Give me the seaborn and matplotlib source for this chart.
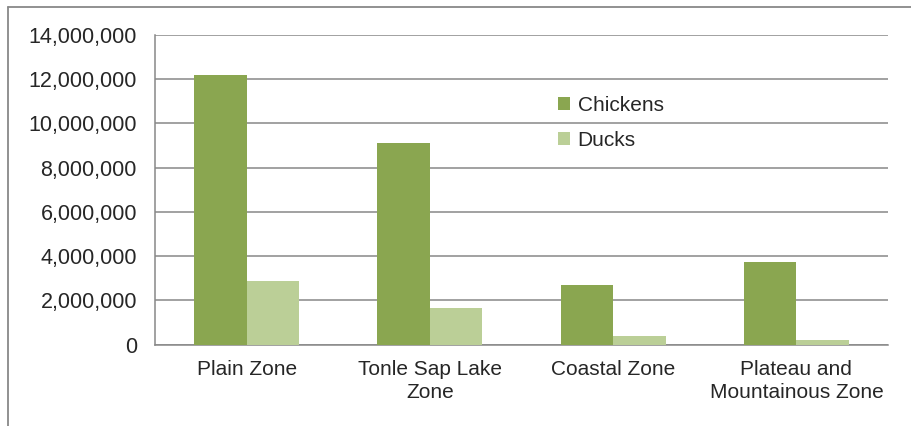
import pandas as pd
import numpy as np
import matplotlib.pyplot as plt
import seaborn as sns
from matplotlib.ticker import FuncFormatter
from matplotlib.lines import Line2D

# data
zones = ['Plain Zone', 'Tonle Sap Lake\nZone', 'Coastal Zone', 'Plateau and\nMountainous Zone']
chickens = [12180000, 9100000, 2680000, 3750000]
ducks = [2860000, 1640000, 400000, 200000]
series = ['Chickens', 'Ducks']
colors = ['#8AA650', '#BBCF97']
yticks = [0, 2000000, 4000000, 6000000, 8000000, 10000000, 12000000, 14000000]

df = pd.DataFrame({'zone': zones * 2,
                   'animal': ['Chickens'] * 4 + ['Ducks'] * 4,
                   'count': chickens + ducks})

sns.set_style('white')
plt.rcParams['font.family'] = ['Liberation Sans', 'DejaVu Sans']

fig = plt.figure(figsize=(9.12, 4.26), dpi=100)
ax = fig.add_axes([0.170, 0.1913, 0.8037, 0.7265])

sns.barplot(data=df, x='zone', y='count', hue='animal', hue_order=series,
            palette=colors, width=0.574, saturation=1, ax=ax, zorder=3,
            edgecolor='none', legend=True)

ax.set_ylim(0, 14000000)
ax.set_yticks(yticks)
ax.yaxis.set_major_formatter(FuncFormatter(lambda v, p: f'{int(v):,}'))
ax.grid(axis='y', color='#888888', linewidth=1.1, zorder=0)
ax.set_axisbelow(True)
ax.set_xlabel('')
ax.set_ylabel('')
for s in ['top', 'right']:
    ax.spines[s].set_visible(False)
for s in ['left', 'bottom']:
    ax.spines[s].set_color('#888888')
    ax.spines[s].set_linewidth(1.1)
ax.tick_params(axis='y', length=0, pad=13, labelsize=15.5)
ax.tick_params(axis='x', length=0, pad=11, labelsize=15)
for lab in ax.get_xticklabels():
    lab.set_linespacing(1.3)

ax.legend(loc='upper left', bbox_to_anchor=(0.538, 0.83), frameon=False,
          fontsize=15, handlelength=0.6, handleheight=0.6, handletextpad=0.35,
          labelspacing=0.75, borderaxespad=0)

# outer chart border (left and top only visible)
fig.add_artist(Line2D([8 / 912, 8 / 912], [0, 1 - 7 / 426], color='#888888', lw=1.3))
fig.add_artist(Line2D([8 / 912, 1], [1 - 7 / 426, 1 - 7 / 426], color='#888888', lw=1.3))

fig.savefig('out.png', dpi=100)
